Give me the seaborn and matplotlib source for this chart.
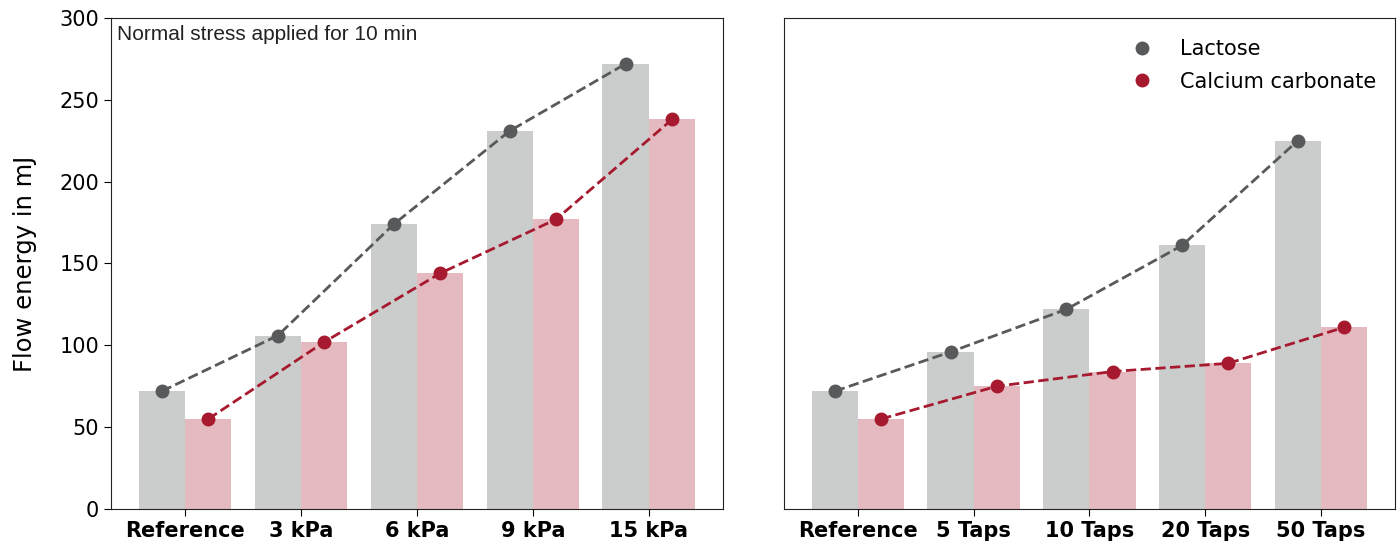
import matplotlib
matplotlib.use("Agg")
import matplotlib.pyplot as plt
from matplotlib.lines import Line2D
import pandas as pd
import seaborn as sns

# data
stress_labels = ["Reference", "3 kPa", "6 kPa", "9 kPa", "15 kPa"]
stress_lactose = [72, 106, 174, 231, 272]
stress_caco3 = [55, 102, 144, 177, 238]

tap_labels = ["Reference", "5 Taps", "10 Taps", "20 Taps", "50 Taps"]
tap_lactose = [72, 96, 122, 161, 225]
tap_caco3 = [55, 75, 84, 89, 111]

materials = ["Lactose", "Calcium carbonate"]
bar_colors = ["#cbcdcc", "#e4b9c0"]
line_colors = ["#58595b", "#a6192e"]

sns.set_style("ticks")
plt.rcParams.update({"text.color": "black", "axes.labelcolor": "black",
                     "xtick.color": "black", "ytick.color": "black",
                     "axes.edgecolor": "#222222"})


def long_frame(labels, lactose, caco3):
    df = pd.DataFrame({"condition": labels, materials[0]: lactose, materials[1]: caco3})
    return df.melt(id_vars="condition", var_name="material", value_name="energy")


def draw_panel(ax, labels, lactose, caco3):
    df = long_frame(labels, lactose, caco3)
    sns.barplot(data=df, x="condition", y="energy", hue="material", hue_order=materials,
                palette=bar_colors, saturation=1, width=0.8, linewidth=0,
                legend=False, ax=ax)
    #dashed line + dot on the middle of every bar
    for cont, vals, col in zip(ax.containers, [lactose, caco3], line_colors):
        xs = [p.get_x() + p.get_width() / 2 for p in cont.patches]
        ax.plot(xs, vals, linestyle="--", color=col, linewidth=2, marker="o", markersize=9)
    ax.set_xlim(-0.64, len(labels) - 0.36)
    ax.set_ylim(0, 300)
    ax.set_xlabel("")
    ax.set_ylabel("")
    ax.tick_params(axis="both", labelsize=15, length=5)
    for lab in ax.get_xticklabels():
        lab.set_fontweight("bold")


fig = plt.figure(figsize=(13.99, 5.42), dpi=100)
ax1 = fig.add_axes([0.0793, 0.0609, 0.4375, 0.9059])
ax2 = fig.add_axes([0.5604, 0.0609, 0.4367, 0.9059], sharey=ax1)

draw_panel(ax1, stress_labels, stress_lactose, stress_caco3)
draw_panel(ax2, tap_labels, tap_lactose, tap_caco3)

ax1.set_ylabel("Flow energy in mJ", fontsize=17.5, labelpad=16)
ax1.text(0.01, 0.985, "Normal stress applied for 10 min", transform=ax1.transAxes,
         ha="left", va="top", fontsize=15, family="Liberation Sans", color="#222222")

ax2.tick_params(axis="y", left=False, labelleft=False)

handles = [Line2D([], [], linestyle="", marker="o", markersize=9, color=c) for c in line_colors]
ax2.legend(handles, materials, loc="upper right", frameon=False, fontsize=15,
           bbox_to_anchor=(1.0, 0.995), labelspacing=0.6)

fig.savefig("out.png", dpi=100)
